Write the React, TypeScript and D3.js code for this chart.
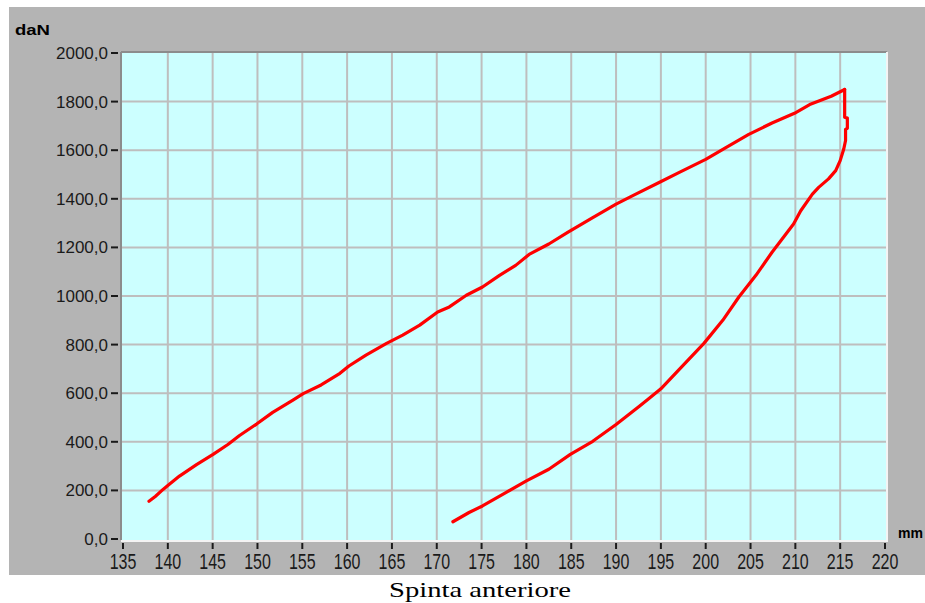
import React from "react";
import * as d3 from "d3";

// ---- data ----
const xTickValues = [135, 140, 145, 150, 155, 160, 165, 170, 175, 180, 185, 190, 195, 200, 205, 210, 215, 220];
const yTickValues = [0, 200, 400, 600, 800, 1000, 1200, 1400, 1600, 1800, 2000];
const yTickLabels = ["0,0", "200,0", "400,0", "600,0", "800,0", "1000,0", "1200,0", "1400,0", "1600,0", "1800,0", "2000,0"];

// loading branch (mm, daN)
const loadBranch: [number, number][] = [
  [137.9, 155], [138.6, 175], [139.5, 205], [140.0, 220], [141.3, 259], [143.2, 306],
  [145.05, 348], [146.7, 389], [148.0, 426], [149.9, 473], [151.7, 521], [154.0, 573],
  [155.1, 598], [157.1, 634], [159.2, 682], [160.2, 712], [162.1, 757], [164.4, 805],
  [166.2, 839], [168.1, 880], [170.1, 934], [171.4, 955], [173.3, 1003], [175.1, 1037],
  [177.0, 1085], [178.8, 1126], [180.3, 1171], [182.5, 1214], [184.6, 1262], [187.4, 1323],
  [190.0, 1378], [192.2, 1419], [194.8, 1467], [197.0, 1508], [200.0, 1562], [202.2, 1610],
  [204.8, 1665], [207.4, 1712], [209.9, 1752], [211.6, 1788], [214.0, 1822], [215.5, 1850],
];

// unloading branch (mm, daN)
const unloadBranch: [number, number][] = [
  [215.5, 1850], [215.5, 1736], [215.8, 1732], [215.8, 1690], [215.6, 1686], [215.6, 1640],
  [215.4, 1605], [215.0, 1557], [214.5, 1516], [213.7, 1482], [212.6, 1447], [211.9, 1419],
  [210.6, 1351], [209.8, 1296], [207.4, 1180], [205.6, 1085], [203.7, 996], [201.9, 900],
  [199.8, 805], [197.0, 696], [195.0, 618], [193.5, 573], [192.6, 546], [190.0, 471],
  [187.4, 402], [184.9, 348], [182.5, 287], [180.0, 239], [177.7, 191], [175.1, 136],
  [173.6, 109], [171.8, 71],
];

const yUnit = "daN";
const xUnit = "mm";
const caption = "Spinta anteriore";

export default function App() {
  const W = 925;
  const H = 603;
  const x = d3.scaleLinear().domain([135, 220]).range([123, 885]);
  const y = d3.scaleLinear().domain([0, 2000]).range([539, 53]);
  const line = d3
    .line<[number, number]>()
    .x((d) => x(d[0]))
    .y((d) => y(d[1]));

  const left = 121;
  const right = 887;
  const top = 52;
  const bottom = 540;

  return (
    <svg
      width={W}
      height={H}
      style={{ position: "absolute", left: 0, top: 0, display: "block" }}
    >
      <rect x={0} y={0} width={W} height={H} fill="#ffffff" />
      <rect x={9} y={7} width={W - 9} height={568} fill="#b4b4b4" />
      {/* plot area */}
      <rect x={left} y={top} width={right - left} height={bottom - top} fill="#ccffff" />
      {/* grid */}
      {xTickValues.slice(1, -1).map((v) => (
        <line key={"gx" + v} x1={x(v)} x2={x(v)} y1={top} y2={bottom} stroke="#bebebe" strokeWidth={2} />
      ))}
      {yTickValues.slice(1, -1).map((v) => (
        <line key={"gy" + v} x1={left} x2={right} y1={y(v)} y2={y(v)} stroke="#bebebe" strokeWidth={2} />
      ))}
      {/* sunken border */}
      <line x1={left} x2={right} y1={top} y2={top} stroke="#8c8c8c" strokeWidth={2} />
      <line x1={left} x2={left} y1={top} y2={bottom} stroke="#8c8c8c" strokeWidth={2} />
      <line x1={left} x2={right + 1} y1={bottom + 1} y2={bottom + 1} stroke="#f4f4f4" strokeWidth={2} />
      <line x1={right} x2={right} y1={top} y2={bottom + 1} stroke="#f4f4f4" strokeWidth={2} />

      {/* curves */}
      <path d={line(loadBranch) || ""} fill="none" stroke="#ff0000" strokeWidth={3.2} strokeLinejoin="round" strokeLinecap="round" />
      <path d={line(unloadBranch) || ""} fill="none" stroke="#ff0000" strokeWidth={3.2} strokeLinejoin="round" strokeLinecap="round" />

      {/* y axis ticks & labels */}
      {yTickValues.map((v, i) => (
        <g key={"yt" + v}>
          <line x1={111} x2={118} y1={y(v)} y2={y(v)} stroke="#1a1a1a" strokeWidth={2} />
          <text
            x={108}
            y={y(v) + 6}
            textAnchor="end"
            fontFamily="'Liberation Sans', Arial, sans-serif"
            fontSize={17}
            fill="#1a1a1a"
          >
            {yTickLabels[i]}
          </text>
        </g>
      ))}

      {/* x axis ticks & labels */}
      {xTickValues.map((v) => (
        <g key={"xt" + v}>
          <line x1={x(v)} x2={x(v)} y1={543} y2={549} stroke="#1a1a1a" strokeWidth={2} />
          <text
            transform={`translate(${x(v)},569) scale(1,1.42)`}
            textAnchor="middle"
            fontFamily="'Liberation Sans', Arial, sans-serif"
            fontSize={16}
            fill="#1a1a1a"
          >
            {v}
          </text>
        </g>
      ))}

      {/* units */}
      <text x={15} y={35} fontFamily="'Liberation Sans', Arial, sans-serif" fontWeight="bold" fontSize={15} textLength={35} lengthAdjust="spacingAndGlyphs" fill="#000">
        {yUnit}
      </text>
      <text x={898} y={538} fontFamily="'Liberation Sans', Arial, sans-serif" fontWeight="bold" fontSize={15} textLength={25} lengthAdjust="spacingAndGlyphs" fill="#000">
        {xUnit}
      </text>

      {/* caption */}
      <text x={480} y={597} textAnchor="middle" fontFamily="'Liberation Serif', 'Times New Roman', serif" fontSize={21} textLength={182} lengthAdjust="spacingAndGlyphs" fill="#000">
        {caption}
      </text>
    </svg>
  );
}
